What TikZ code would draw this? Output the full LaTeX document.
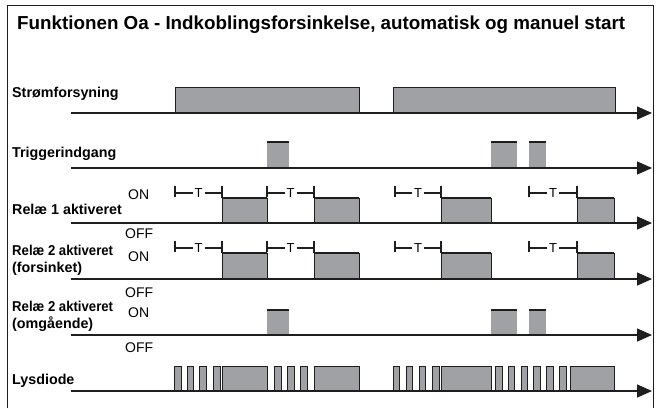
\documentclass[tikz,border=0pt]{standalone}
\usepackage{fontspec}
\setmainfont{Liberation Sans}
\usetikzlibrary{arrows.meta}
\definecolor{pulsegrey}{RGB}{160,161,165}
\definecolor{linedark}{RGB}{30,30,30}
\begin{document}
\begin{tikzpicture}[x=1pt,y=-1pt,
  axis/.style={line width=1.3pt, draw=linedark, -{Triangle[length=15pt,width=13pt]}},
  pulse/.style={fill=pulsegrey, draw=linedark, line width=0.9pt},
  lbl/.style={anchor=base west, inner sep=0pt, font=\bfseries\fontsize{14.3}{16}\selectfont},
  st/.style={anchor=base west, inner sep=0pt, font=\fontsize{14}{16}\selectfont},
  tl/.style={inner sep=0pt, font=\fontsize{13}{14}\selectfont},
  tbar/.style={line width=2pt, draw=linedark},
  tline/.style={line width=1.3pt, draw=linedark}]
\useasboundingbox (0,0) rectangle (656,408);
\fill[white] (0,0) rectangle (656,408);
\draw[line width=1pt, linedark] (7,408) -- (7,5) -- (653,5) -- (653,408);
% title
\node[anchor=base west, inner sep=0pt, font=\bfseries\fontsize{18.8}{20}\selectfont] (title) at (17,29) {Funktionen Oa - Indkoblingsforsinkelse, automatisk og manuel start};
% labels
\node[lbl] (lpow) at (12,97) {Strømforsyning};
\node[lbl] (ltrig) at (12,157) {Triggerindgang};
\node[st] (on1) at (128,199) {ON};
\node[lbl] (lr1) at (12,214) {Relæ 1 aktiveret};
\node[st] (off1) at (125,238) {OFF};
\node[lbl] (lr2a) at (12,255) {\scalebox{0.92}[1]{Relæ 2 aktiveret}};
\node[st] (on2) at (128,261) {ON};
\node[lbl] (lr2b) at (12,272) {(forsinket)};
\node[st] (off2) at (125,297) {OFF};
\node[lbl] (lr3a) at (12,311) {\scalebox{0.92}[1]{Relæ 2 aktiveret}};
\node[st] (on3) at (128,317) {ON};
\node[lbl] (lr3b) at (12,328) {(omgående)};
\node[st] (off3) at (125,352) {OFF};
\node[lbl] (lled) at (12,384) {Lysdiode};
% power
\draw[pulse] (175,113) rectangle (359,87);
\draw[pulse] (393,113) rectangle (615,87);
% trigger
\foreach \a/\b in {267/289,491/517,529/546}{
  \fill[pulsegrey] (\a,168) rectangle (\b,142);
  \draw[line width=1.3pt, linedark] (\a,142) -- (\b,142);
}
% relay 2 omgaaende
\foreach \a/\b in {267/289,491/517,529/546}{
  \fill[pulsegrey] (\a,335) rectangle (\b,310);
  \draw[line width=1.3pt, linedark] (\a,310) -- (\b,310);
}
% relay 1 and relay 2 forsinket
\foreach \yt/\ya in {193/223,248/279}{
  \foreach \xs/\xe/\xb in {175/222/267,267/314/359,395/441/491,529/577/614}{
    \pgfmathsetmacro{\xm}{(\xs+\xe)/2}
    \fill[pulsegrey] (\xe,\ya) rectangle (\xb,\yt+5);
    \draw[tline] (\xe,\yt+5) -- (\xb,\yt+5);
    \draw[line width=0.9pt, linedark] (\xe,\ya) -- (\xe,\yt+5);
    \draw[line width=0.9pt, linedark] (\xb,\ya) -- (\xb,\yt+5);
    \draw[tbar] (\xs,\yt-7) -- (\xs,\yt+4);
    \draw[tbar] (\xe,\yt-7) -- (\xe,\yt+5);
    \draw[tline] (\xs,\yt) -- (\xm-6,\yt);
    \draw[tline] (\xm+6,\yt) -- (\xe,\yt);
    \node[tl] at (\xm,\yt) {T};
  }
}
% led
\foreach \a/\b in {174/181,187/193,199/206,213/220,222/267,274/281,287/294,300/307,314/359,
  393/399,406/412,419/425,432/439,441/491,495/502,508/514,521/527,533/540,546/553,559/566,570/614}{
  \draw[pulse] (\a,391) rectangle (\b,366);
}
% axes
\coordinate (a1s) at (71,113); \coordinate (a1e) at (652,113);
\coordinate (a2s) at (71,168); \coordinate (a2e) at (652,168);
\coordinate (a3s) at (71,223); \coordinate (a3e) at (652,223);
\coordinate (a4s) at (71,279); \coordinate (a4e) at (652,279);
\coordinate (a5s) at (71,335); \coordinate (a5e) at (652,335);
\coordinate (a6s) at (71,391); \coordinate (a6e) at (652,391);
\foreach \i in {1,...,6}{\draw[axis] (a\i s) -- (a\i e);}
\end{tikzpicture}
\end{document}
